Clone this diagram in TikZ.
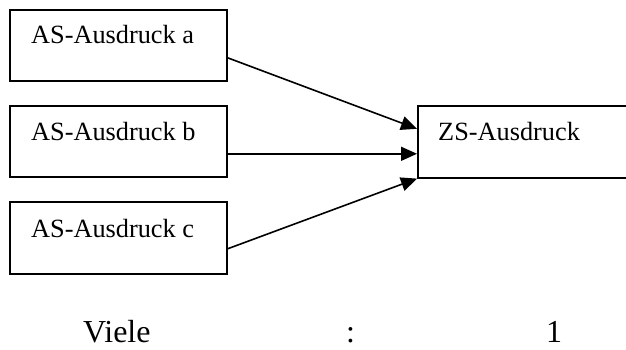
\documentclass[tikz,border=0pt]{standalone}
\usepackage{fontspec}
\setmainfont{Liberation Serif}
\usetikzlibrary{arrows.meta}
\tikzset{
  boxnode/.style={draw, line width=1.6pt, inner sep=0pt, anchor=north west},
  lbl/.style={anchor=base west, inner sep=0pt, font=\fontsize{26.3}{31}\selectfont},
  big/.style={anchor=base west, inner sep=0pt, font=\fontsize{32}{37}\selectfont},
  conn/.style={line width=1.6pt, -{Triangle[length=16pt,width=14pt]}}
}
\begin{document}
\begin{tikzpicture}[x=1pt,y=-1pt]
\useasboundingbox (0,0) rectangle (626,350);
\clip (0,0) rectangle (626,350);
\node[boxnode, minimum width=217pt, minimum height=71pt] (a) at (9,9) {};
\node[boxnode, minimum width=217pt, minimum height=71pt] (b) at (9,105) {};
\node[boxnode, minimum width=217pt, minimum height=72pt] (c) at (9,201) {};
\node[boxnode, minimum width=223pt, minimum height=72pt] (z) at (417,105) {};
\node[lbl] (ta) at (31,44) {AS-Ausdruck a};
\node[lbl] (tb) at (31,140) {AS-Ausdruck b};
\node[lbl] (tc) at (31,237) {AS-Ausdruck c};
\node[lbl] (tz) at (438,140) {ZS-Ausdruck};
\draw[conn] ([yshift=-12.5pt]a.east) -- ([yshift=13pt]z.west);
\draw[conn] ([yshift=-12.5pt]b.east) -- ([yshift=-12pt]z.west);
\draw[conn] ([yshift=-11pt]c.east) -- (z.south west);
\node[big] (viele) at (83,342) {Viele};
\node[big] (colon) at (346,342) {:};
\node[big] (one) at (546,342) {1};
\end{tikzpicture}
\end{document}
